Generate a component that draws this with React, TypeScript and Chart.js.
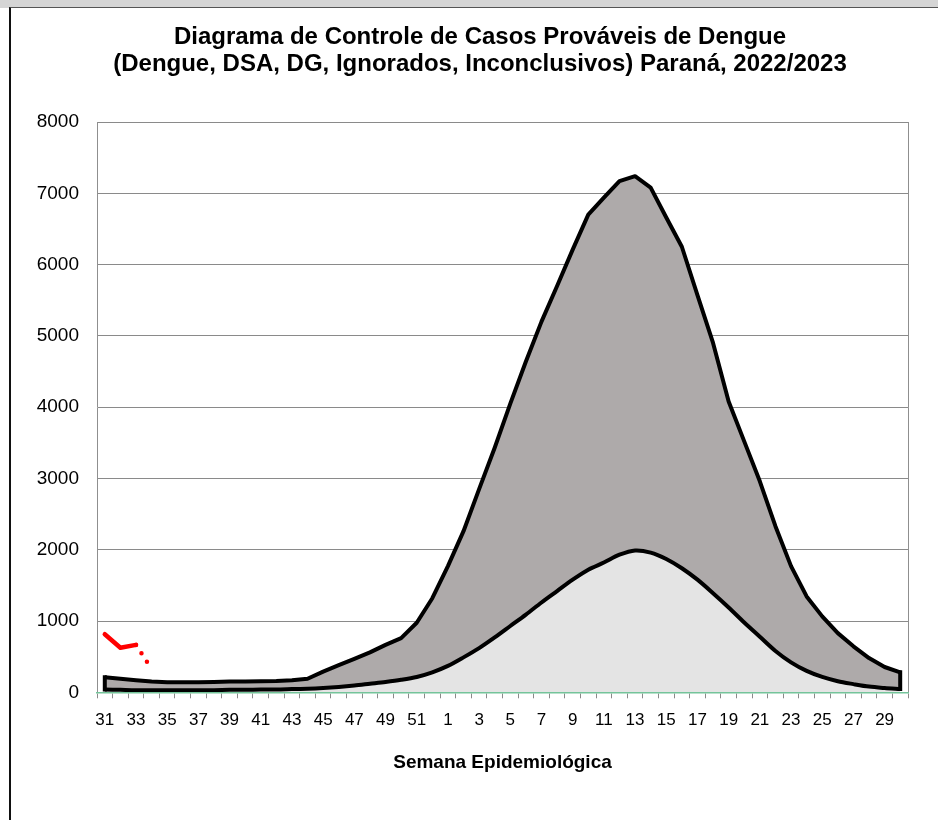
import React, { useEffect, useRef } from "react";
import { Chart, registerables } from "chart.js";

Chart.register(...registerables);

const weeks: number[] = [
  31, 32, 33, 34, 35, 36, 37, 38, 39, 40, 41, 42, 43, 44, 45, 46, 47, 48, 49, 50, 51, 52,
  1, 2, 3, 4, 5, 6, 7, 8, 9, 10, 11, 12, 13, 14, 15, 16, 17, 18, 19, 20, 21, 22, 23, 24, 25, 26, 27, 28, 29, 30,
];

const upperLimit: number[] = [
  210, 190, 170, 150, 140, 140, 140, 145, 150, 150, 155, 160, 170, 190, 290, 380, 470, 560, 665, 760, 975, 1320,
  1770, 2260, 2850, 3430, 4050, 4640, 5200, 5700, 6210, 6700, 6940, 7170, 7240, 7080, 6660, 6250, 5570, 4900,
  4080, 3520, 2960, 2330, 1770, 1345, 1065, 830, 645, 480, 355, 280,
];

const median: number[] = [
  40, 35, 30, 30, 30, 30, 30, 30, 35, 35, 40, 40, 45, 50, 60, 75, 95, 120, 145, 175, 215, 280,
  370, 490, 620, 770, 930, 1090, 1260, 1420, 1580, 1720, 1820, 1930, 1990, 1960, 1870, 1740, 1580, 1390,
  1190, 980, 780, 580, 420, 300, 215, 155, 115, 80, 60, 45,
];

const current: (number | null)[] = [815, 625, 665, 330];

const yTicks: number[] = [0, 1000, 2000, 3000, 4000, 5000, 6000, 7000, 8000];

const titleLines: string[] = [
  "Diagrama de Controle de Casos Prováveis de Dengue",
  "(Dengue, DSA, DG, Ignorados, Inconclusivos) Paraná, 2022/2023",
];
const xTitle = "Semana Epidemiológica";

const FONT = "'Liberation Sans', Arial, sans-serif";

const edgesPlugin = {
  id: "edges",
  beforeDatasetsDraw(chart: any) {
    const { ctx, chartArea } = chart;
    ctx.save();
    ctx.strokeStyle = "#8f8f8f";
    ctx.lineWidth = 1;
    ctx.beginPath();
    ctx.moveTo(chartArea.right + 0.5, chartArea.top);
    ctx.lineTo(chartArea.right + 0.5, chartArea.bottom);
    ctx.stroke();
    ctx.restore();
  },
  afterDatasetsDraw(chart: any) {
    const { ctx } = chart;
    const lo = chart.getDatasetMeta(1).data;
    const up = chart.getDatasetMeta(2).data;
    if (!lo.length || !up.length) return;
    ctx.save();
    ctx.strokeStyle = "#000";
    ctx.lineWidth = 4;
    ctx.lineCap = "square";
    ctx.beginPath();
    ctx.moveTo(up[0].x, up[0].y);
    ctx.lineTo(lo[0].x, lo[0].y);
    const n = up.length - 1;
    ctx.moveTo(up[n].x, up[n].y);
    ctx.lineTo(lo[n].x, lo[n].y);
    ctx.stroke();
    ctx.restore();
  },
};

export default function App() {
  const ref = useRef<HTMLCanvasElement>(null);

  useEffect(() => {
    if (!ref.current) return;
    const chart = new Chart(ref.current, {
      type: "line",
      data: {
        labels: weeks.map(String),
        datasets: [
          {
            label: "Atual",
            data: current,
            borderColor: "#ff0000",
            borderWidth: 4.5,
            borderCapStyle: "round",
            borderJoinStyle: "round",
            pointRadius: 0,
            fill: false,
            segment: {
              borderDash: (c: any) => (c.p0DataIndex >= 2 ? [0, 10] : undefined),
            },
          },
          {
            label: "Mediana",
            data: median,
            borderColor: "#000",
            borderWidth: 4,
            borderJoinStyle: "round",
            backgroundColor: "#e4e4e4",
            pointRadius: 0,
            tension: 0.3,
            fill: "origin",
          },
          {
            label: "Limite superior",
            data: upperLimit,
            borderColor: "#000",
            borderWidth: 4,
            borderJoinStyle: "round",
            backgroundColor: "#aeaaaa",
            pointRadius: 0,
            tension: 0,
            fill: "-1",
          },
        ],
      },
      options: {
        responsive: false,
        animation: false,
        events: [],
        layout: { padding: { left: 0, right: 0, top: 0, bottom: 45.5 } },
        plugins: {
          legend: { display: false },
          tooltip: { enabled: false },
          title: {
            display: true,
            text: titleLines,
            color: "#000",
            font: { family: FONT, size: 24, weight: "bold", lineHeight: 1.125 },
            padding: { top: 15, bottom: 44 },
          },
        },
        scales: {
          x: {
            type: "category",
            offset: true,
            border: { display: true, color: "#74c49a", width: 1.5, z: 1 },
            grid: {
              display: true,
              offset: true,
              drawOnChartArea: false,
              drawTicks: true,
              tickLength: 6,
              color: "#8a8a8a",
              tickColor: "#8a8a8a",
              lineWidth: 1,
            },
            ticks: {
              autoSkip: false,
              maxRotation: 0,
              minRotation: 0,
              padding: 12,
              color: "#000",
              font: { family: FONT, size: 17 },
              callback: (_v: any, i: number) => (i % 2 === 0 ? String(weeks[i]) : ""),
            },
            title: {
              display: true,
              text: xTitle,
              color: "#000",
              font: { family: FONT, size: 19, weight: "bold", lineHeight: 1.2 },
              padding: { top: 9, bottom: 0 },
            },
          },
          y: {
            min: 0,
            max: 8000,
            afterFit: (s: any) => {
              s.width = 87;
            },
            afterBuildTicks: (s: any) => {
              s.ticks = yTicks.map((v) => ({ value: v }));
            },
            border: { display: true, color: "#8f8f8f", width: 1 },
            grid: { color: "#8a8a8a", lineWidth: 1, drawTicks: false },
            ticks: {
              padding: 18,
              color: "#000",
              font: { family: FONT, size: 19 },
              callback: (v: any) => String(v),
            },
          },
          yRightSpace: {
            type: "linear",
            position: "right",
            min: 0,
            max: 8000,
            afterFit: (s: any) => {
              s.width = 42;
            },
            border: { display: false },
            grid: { display: false, drawTicks: false },
            ticks: { display: false },
          },
        },
      },
      plugins: [edgesPlugin],
    });
    return () => chart.destroy();
  }, []);

  return (
    <div
      style={{
        position: "fixed",
        left: 0,
        top: 0,
        width: 938,
        height: 820,
        background: "#fff",
        overflow: "hidden",
      }}
    >
      <div style={{ position: "absolute", left: 0, top: 0, width: 938, height: 8, background: "#d5d5d5" }} />
      <div
        style={{
          position: "absolute",
          left: 9,
          top: 7,
          width: 1000,
          height: 900,
          borderLeft: "2px solid #111",
          borderTop: "1.5px solid #555",
        }}
      />
      <canvas
        ref={ref}
        width={940}
        height={811}
        style={{ position: "absolute", left: 10, top: 9, width: 940, height: 811 }}
      />
    </div>
  );
}
